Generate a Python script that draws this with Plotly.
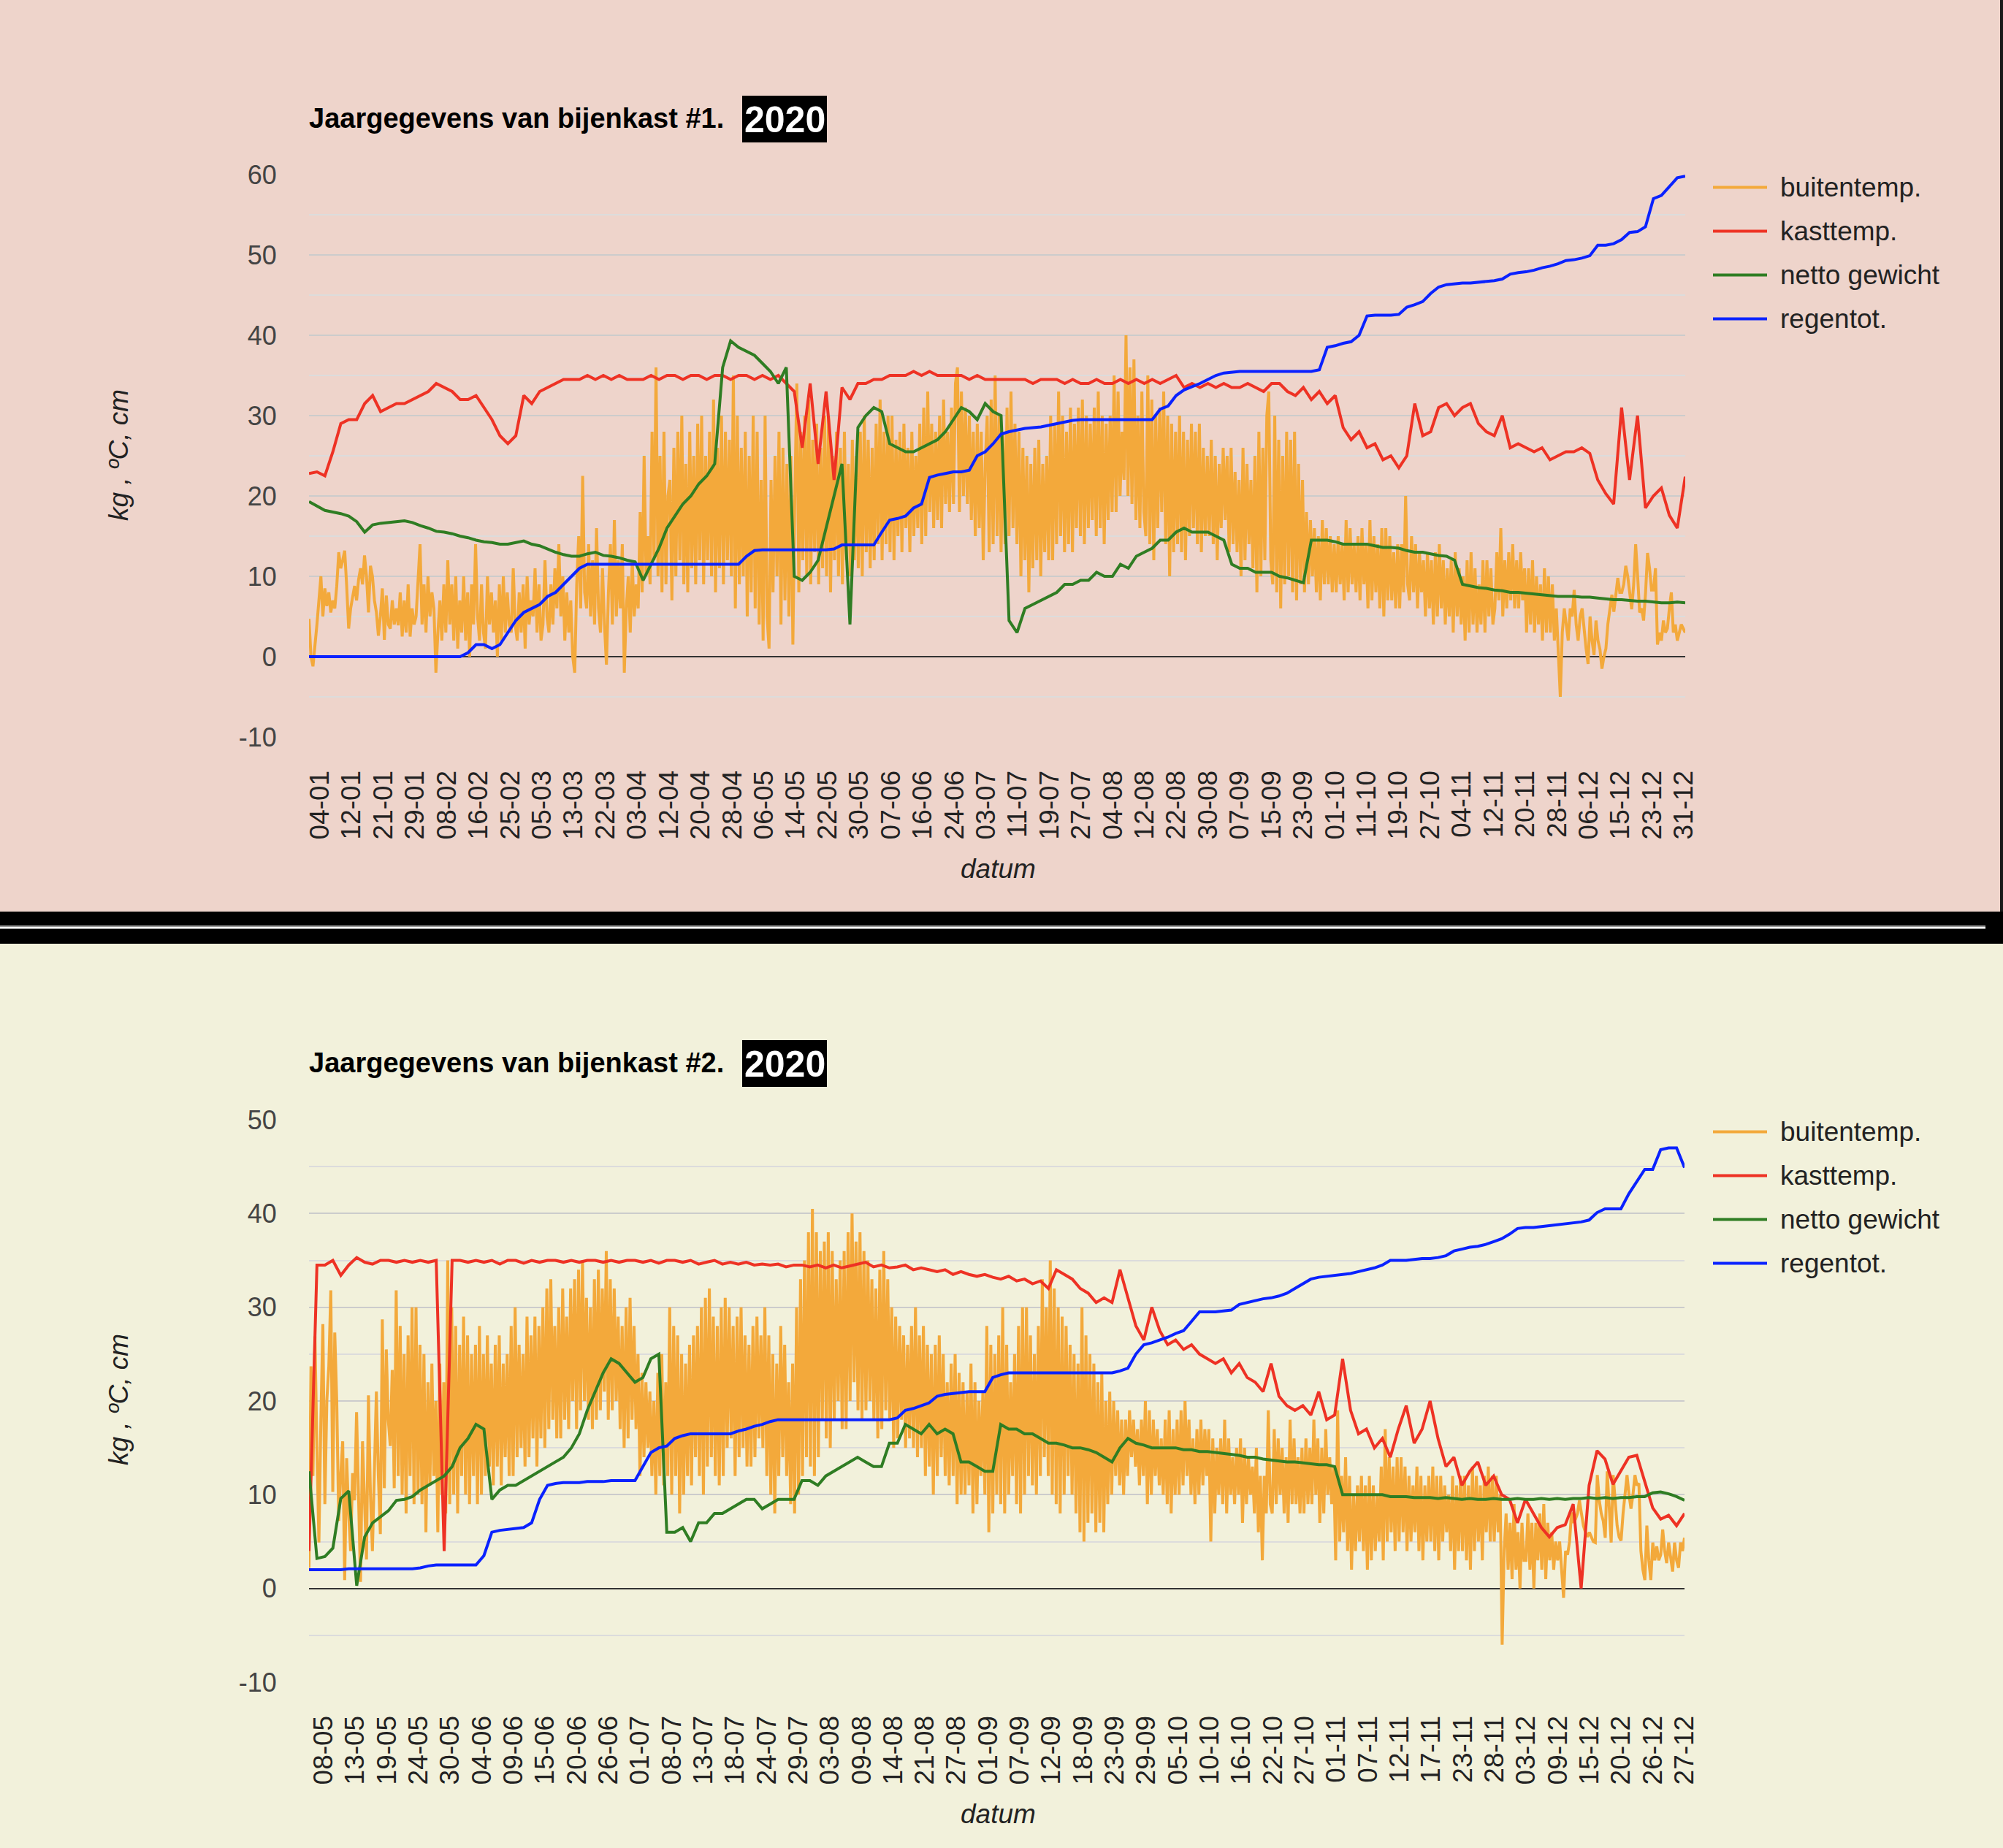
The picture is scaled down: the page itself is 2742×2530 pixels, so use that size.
import numpy as np
import plotly.graph_objects as go

W, H = 2742, 2530
def px(x): return x / W
def py(y): return 1 - y / H

# ---------------- data : chart 1 (bijenkast #1) ----------------
top_labels = ["04-01","12-01","21-01","29-01","08-02","16-02","25-02","05-03","13-03","22-03",
              "03-04","12-04","20-04","28-04","06-05","14-05","22-05","30-05","07-06","16-06",
              "24-06","03-07","11-07","19-07","27-07","04-08","12-08","22-08","30-08","07-09",
              "15-09","23-09","01-10","11-10","19-10","27-10","04-11","12-11","20-11","28-11",
              "06-12","15-12","23-12","31-12"]

top_buitentemp = [
4.7,0,-1.2,1,4,7,
10,5,8.5,6.3,8,5.5,7,6,8.8,13,11,12,13.2,8.8,3.5,6,
7.4,8.8,7,9.6,11,9,12.6,10,5.5,11.3,10,7,5.5,2.6,5,8.5,
2.1,7.6,4,3.5,7,4,6,3.9,8,2.5,7,3,9,2.5,6,4,
5,10,14,4,9,3,10,5,8,6,-2,3,7,2,9,3,
12,4,9,2,10,1,7,3,10,2,8,0,9,4,14,5,
2,9,3,1,10,4,8,3,7,0,9,2,10,3,8,4,
3,11,4,2,8,3,9,1,10,4,7,5,11,3,9,2,
4,12,5,3,9,4,11,6,14,5,10,2,8,3,7,0,
-2,9,15,6,22.5,8,6,14,5,12,4,16,6,3,11,4,
-1,8,14,4,17,5,12,6,14,-2,6,10,3,12,5,9,
6,18,8,25,10,15,9,28,12,36,10,25,8,28,9,20,
22,7,26,10,28,12,30,9,24,8,28,11,25,9,29,12,
30,9,25,12,28,10,32,8,26,11,30,9,28,12,27,10,
35,6,30,9,26,10,28,5,25,8,30,6,28,4,22,2,
30,5,1,22,8,25,10,28,4,26,7,24,5,25,1.5,20,
34,8,28,12,30,10,32,9,27,13,29,9,26,11,30,10,
30,8,25,12,28,10,26,9,28,12,24,10,27,12,25,11,
28,10,30,13,27,11,26,12,29,14,32,12,28,14,30,13,
30,12,27,15,28,13,29,16,26,13,28,15,25,16,29,14,
31,15,33,18,29,16,28,17,30,16,32,19,28,18,31,19,
34,36,18,33,20,31,19,30,17,28,15,29,16,28,12,24,
30,13,32,14,35,15,30,13,28,14,31,15,33,16,29,14,
28,10,26,12,25,8,24,11,26,12,27,10,24,13,25,12,
30,12,29,14,33,15,30,13,28,14,31,13,29,16,31,15,
32,14,30,16,29,17,31,15,33,16,30,14,29,17,30,18,
35,18,33,20,28,22,40,20,36,19,37,17,30,16,33,18,
15,35,14,32,12,30,16,31,18,33,14,30,10,29,13,28,
14,30,13,28,12,27,15,29,16,28,14,29,13,26,15,25,
15,27,14,25,12,24,16,26,17,25,13,26,14,23,13,22,
10,26,12,24,14,22,11,25,8,28,10,26,12,30,33,12,
9,30,8,27,6,25,9,28,10,27,8,28,7,24,9,22,
8,18,9,17,10,16,8,15,7,17,9,16,9,15,8,14,
8,15,9,14,7,17,8,16,9,14,8,15,7,16,9,14,
6,17,7,15,8,14,6,16,5,16,7,15,7,13,6,14,
6,14,8,20,9,7,15,8,14,6,13,8,12,5,13,6,
12,4,13,5,14,6,12,4,11,5,12,3,13,5,11,4,
10,2,12,3,13,4,11,3,9,4,12,3,12,5,11,4,
6,13,7,16,5,12,6,13,7,14,6,12,6,13,7,11,
3,11,4,12,3,10,4,9,2,11,3,10,3,9,2,6,
1,-5,3,6,4,2,6,5,8.3,4,2,5,6,3,1,-0.9,
5,2,0.2,4.5,2,0.9,-1.5,0,1,4.1,6,7.7,5.6,8,9.8,8,
8,9,11.3,10,8,5.9,9,14,10,5.5,6,4.5,8,12.9,11,8.3,
8.3,11,1.5,3,2,4.5,3,3.5,6,8,3,4,2,3,4,3.5,
3]

top_kasttemp = [
22.8,23,
22.5,25.5,29,29.5, 29.5,31.5,32.5,30.5, 31,31.5,31.5,32, 32.5,33,34,33.5,
33,32,32,32.5, 31,29.5,27.5,26.5, 27.5,32.5,31.5,33, 33.5,34,34.5,34.5,
34.5,35,34.5,35, 34.5,35,34.5,34.5, 34.5,35,34.5,35, 35,34.5,35,35,
34.5,35,35,34.5, 35,35,34.5,35, 34.5,35,34,33, 26,34,24,33,
22,33.5,32,34, 34,34.5,34.5,35, 35,35,35.5,35, 35.5,35,35,35,
35,34.5,35,34.5, 34.5,34.5,34.5,34.5, 34.5,34,34.5,34.5, 34.5,34,34.5,34,
34,34.5,34,34, 34.5,34,34.5,34, 34.5,34,34.5,35, 33.5,34,33.5,34,
33.5,34,33.5,33.5, 34,33.5,33,34, 34,33,32.5,33.5, 32,33,31.5,32.5,
28.5,27,28,26, 26.5,24.5,25,23.5, 25,31.5,27.5,28, 31,31.5,30,31,
31.5,29,28,27.5, 30,26,26.5,26, 25.5,26,24.5,25, 25.5,25.5,26,25.3,
22,20.3,19,31, 22,30,18.5,20, 21,17.6,16,22.4]

top_gewicht = [
19.3,18.8,
18.2,18,17.8,17.5, 16.8,15.5,16.4,16.6, 16.7,16.8,16.9,16.7, 16.3,16,15.6,15.5,
15.3,15,14.8,14.5, 14.3,14.2,14,14, 14.2,14.4,14,13.8, 13.4,13,12.7,12.5,
12.5,12.8,13,12.6, 12.5,12.3,12,11.8, 9.5,11.5,13.5,16, 17.5,19,20,21.5,
22.5,24,36,39.3, 38.5,38,37.5,36.5, 35.5,34,36,10, 9.5,10.5,12,16,
20,24,4,28.5, 30,31,30.5,26.5, 26,25.5,25.5,26, 26.5,27,28,29.5,
31,30.5,29.5,31.5, 30.5,30,4.5,3, 6,6.5,7,7.5, 8,9,9,9.5,
9.5,10.5,10,10, 11.5,11,12.5,13, 13.5,14.5,14.5,15.5, 16,15.5,15.5,15.5,
15,14.5,11.5,11, 11,10.5,10.5,10.5, 10,9.8,9.5,9.2, 14.5,14.5,14.5,14.3,
14,14,14,14, 13.8,13.6,13.6,13.5, 13.2,13,13,12.8, 12.6,12.5,12,9,
8.8,8.6,8.5,8.3, 8.2,8,8,7.9, 7.8,7.7,7.6,7.5, 7.5,7.5,7.4,7.4,
7.3,7.2,7.1,7.1, 7,6.9,6.9,6.8, 6.7,6.7,6.8,6.7]

top_regentot = [
0,0,
0,0,0,0, 0,0,0,0, 0,0,0,0, 0,0,0,0, 0,0,0.5,1.5, 1.5,1.0,1.5,3,
4.5,5.5,6,6.5, 7.5,8,9,10, 11,11.5,11.5,11.5, 11.5,11.5,11.5,11.5,
11.5,11.5,11.5,11.5, 11.5,11.5,11.5,11.5, 11.5,11.5,11.5,11.5, 11.5,12.5,13.2,13.3,
13.3,13.3,13.3,13.3, 13.3,13.3,13.3,13.3, 13.4,13.9,13.9,13.9, 13.9,13.9,15.5,17,
17.2,17.5,18.5,19, 22.3,22.6,22.8,23, 23,23.2,25,25.5, 26.5,27.7,28,28.2,
28.4,28.5,28.6,28.8, 29,29.2,29.4,29.5, 29.5,29.5,29.5,29.5, 29.5,29.5,29.5,29.5,
29.5,30.8,31.2,32.5, 33.2,33.6,34,34.5, 35,35.3,35.4,35.5, 35.5,35.5,35.5,35.5,
35.5,35.5,35.5,35.5, 35.5,35.7,38.5,38.7, 39,39.2,40,42.4, 42.5,42.5,42.5,42.6,
43.5,43.8,44.2,45.2, 46,46.3,46.4,46.5, 46.5,46.6,46.7,46.8, 47,47.6,47.8,47.9,
48.1,48.4,48.6,48.9, 49.3,49.4,49.6,49.9, 51.2,51.2,51.4,51.9, 52.8,52.9,53.5,57,
57.4,58.5,59.6,59.8]

# ---------------- data : chart 2 (bijenkast #2) ----------------
bot_labels = ["08-05","13-05","19-05","24-05","30-05","04-06","09-06","15-06","20-06","26-06",
              "01-07","08-07","13-07","18-07","24-07","29-07","03-08","09-08","14-08","21-08",
              "27-08","01-09","07-09","12-09","18-09","23-09","29-09","05-10","10-10","16-10",
              "22-10","27-10","01-11","07-11","12-11","17-11","23-11","28-11","03-12","09-12",
              "15-12","20-12","26-12","27-12"]

bot_buitentemp = [
2.2,23.7,12,26.9,15,4.9,
18,28.2,9,20,23.7,31.8,10.3,27.3,20,7.2,12,15.7,0.9,13.9,8,4,
12.3,9.4,18.8,8,0.7,15.7,8,3.1,20.6,10,4,14,21,12,5.8,28.7,
10.7,25.5,18,15.2,23.3,10.7,31.8,12,28,10,25,8,27,12,30,9,
30,10,26,9,25,6,22,11,24,12,20,6,24,10,22,8,
35,9,30,10,28,8,26,12,29,10,27,9,25,12,26,9,
28,10,25,12,27,13,24,11,26,13,27,11,24,14,25,12,
28,12,30,14,26,15,25,13,29,14,27,16,29,13,28,16,
30,15,32,17,33,18,28,16,30,16,32,18,29,17,32,20,
33,17,34,19,35,20,31,18,30,17,33,18,34,19,32,21,
36,18,33,19,32,20,29,17,28,15,30,16,31,18,28,17,
25,12,23,14,22,15,21,12,20,10,23,12,25,11,22,12,
30,10,28,12,27,8,25,10,24,12,26,11,27,14,28,12,
30,10,31,13,32,14,29,12,28,11,30,12,31,15,30,16,
28,12,29,14,30,15,27,13,26,13,28,14,29,16,27,15,
30,12,27,10,25,8,24,12,28,14,26,12,22,9,24,8,
30,10,33,12,35,14,38,13,40.5,12,38,14,36,18,37,16,
38,15,36,18,33,20,35,17,36,17,38,20,40,22,37,19,
38,18,36,19,35,20,33,18,32,16,34,17,36,19,33,18,
30,15,29,16,28,18,27,15,26,16,28,15,30,14,27,15,
28,12,26,13,25,10,26,12,27,14,25,12,22,11,24,12,
25,9,23,10,22,10,21,11,24,8,22,9,20,12,21,10,
28,6,26,8,25,10,27,9,30,8,26,10,22,12,25,9,
28,8,30,10,30,12,27,11,25,10,28,12,33,14,30,12,
35,10,32,9,30,8,29,10,28,12,26,10,25,8,24,6,
30,5,27,7,25,8,24,6,22,7,23,6,20,9,21,10,
20,12,19,11,18,10,18,12,19,14,18,13,17,11,18,12,
20,9,19,10,18,12,17,11,16,10,18,9,19,8,17,10,
18,10,19,11,20,12,18,10,16,9,17,10,18,11,17,12,
17,5,16,8,15,10,16,9,18,8,16,10,14,9,15,10,
16,7,15,9,14,10,13,8,15,6,12,3,12,8,19,9,
8,17,9,16,10,15,8,14,7,18,9,16,9,14,8,15,
8,16,9,15,9,18,10,16,7,15,8,17,10,14,9,13,
3,19,5,12,6,14,4,12,2,10,4,11,5,12,4,11,
2,12,3,11,4,10,5,13,3,17,5,14,6,13,4,14,
5,14,6,13,4,12,5,11,6,13,4,12,3,11,5,12,
5,13,4,12,3,12,5,11,6,10,4,12,2,11,4,12,
4,12,3,11,2,13,4,12,5,11,3,12,6,13,5,12,
5,12,6,10,-6,4,8,2,7,1,9,2,6,0,7,3,
3,8,2,7,0,7,3,8,2,9,1,7,3,6,2,5,
3,5,2,-1,4,3.6,5,8.1,7,7.4,8,9.4,8,6.7,6,5.5,
6,5.5,5,4.9,12.1,9.4,8,7.2,5.4,12.5,9,4.9,12.1,9,6.7,5.5,
5.1,8,10.3,12.1,10,8.5,10,12.1,11,11.2,4,2,0.9,6.7,3,0.9,
4.9,3,4.5,3,3.6,6.3,4,2.7,4.9,3,1.8,4.9,3,2.2,4.9,4,
5.4]

bot_kasttemp = [
4,34.5,
34.5,35,33.4,34.5, 35.3,34.8,34.6,35, 35,34.8,35,34.8, 35,34.8,35,4,
35,35,34.8,35, 34.8,35,34.6,35, 35,34.7,35,34.8, 35,35,34.8,35,
34.8,35,35,34.8, 35,34.8,35,35, 34.8,35,34.7,35, 35,34.8,35,34.6,
34.8,35,34.6,34.8, 34.6,34.8,34.5,34.6, 34.5,34.6,34.3,34.5, 34.5,34.3,34.5,34.2,
34.5,34.2,34.4,34.6, 34.8,34.3,34.5,34.2, 34.3,34.5,34,34.2, 34,33.8,34,33.5,
33.8,33.5,33.3,33.5, 33.2,33,33.3,32.8, 33,32.5,32.8,32, 34,33.5,33,32,
31.5,30.5,31,30.5, 34,31,28,26.5, 30,27.5,26,26.5, 25.5,26,25,24.5,
24,24.5,23,24, 22.5,22,21,24, 20.5,19.5,19,19.5, 18.5,21,18,18.5,
24.5,19,16.5,17, 15,16,14,17, 19.5,15.5,17,20, 16,13,14,11,
12.5,13.5,11,12, 10,9.5,7,9.5, 8,6.5,5.5,6.5, 6.8,9,0,11,
14.7,13.8,11.1,12.5, 14,14.2,11.5,8.6, 7.4,7.8,6.7,8]

bot_gewicht = [
12.5,3.2,
3.4,4.3,9.6,10.4, 0.3,5.5,7,7.7, 8.3,9.4,9.5,9.8, 10.5,11,11.5,12,
13,15,16,17.5, 17,9.5,10.5,11, 11,11.5,12,12.5, 13,13.5,14,15,
16.5,19,21,23, 24.5,24,23,22, 22.5,24.5,25,6, 6,6.5,5,7,
7,8,8,8.5, 9,9.5,9.5,8.5, 9,9.5,9.5,9.5, 11.5,11.5,11,12,
12.5,13,13.5,14, 13.5,13,13,15.5, 15.5,17.5,17,16.5, 17.5,16.5,17,16.5,
13.5,13.5,13,12.5, 12.5,17.5,17,17, 16.5,16.5,16,15.5, 15.5,15.3,15,15,
14.8,14.5,14,13.5, 15,16,15.5,15.3, 15,15,15,15, 14.8,14.8,14.6,14.6,
14.5,14.4,14.3,14.2, 14,14,13.8,13.7, 13.6,13.5,13.5,13.4, 13.3,13.2,13.2,13,
10,10,10,10, 10,10,9.8,9.8, 9.8,9.7,9.7,9.7, 9.6,9.7,9.6,9.5,
9.6,9.5,9.5,9.6, 9.5,9.5,9.6,9.5, 9.5,9.6,9.5,9.6, 9.5,9.6,9.6,9.7,
9.6,9.7,9.6,9.7, 9.7,9.8,9.8,10.2, 10.3,10.1,9.8,9.4]

bot_regentot = [
2,2,
2,2,2,2.1, 2.1,2.1,2.1,2.1, 2.1,2.1,2.1,2.1, 2.2,2.4,2.5,2.5, 2.5,2.5,2.5,2.5,
3.5,6,6.2,6.3, 6.4,6.5,7,9.5, 11,11.2,11.3,11.3, 11.3,11.4,11.4,11.4, 11.5,11.5,11.5,11.5,
13,14.5,15,15.2, 16,16.3,16.5,16.5, 16.5,16.5,16.5,16.5, 16.8,17,17.3,17.5, 17.8,18,18,18,
18,18,18,18, 18,18,18,18, 18,18,18,18, 18.2,19,19.2,19.5, 19.8,20.5,20.7,20.8,
20.9,21,21,21, 22.5,22.8,23,23, 23,23,23,23, 23,23,23,23, 23,23,23,23,
23.2,23.5,25,26, 26.2,26.5,26.8,27.2, 27.5,28.5,29.5,29.5, 29.5,29.6,29.7,30.3,
30.5,30.7,30.9,31, 31.2,31.5,32,32.5, 33,33.2,33.3,33.4, 33.5,33.6,33.8,34,
34.2,34.5,35,35, 35,35.1,35.2,35.2, 35.3,35.5,36,36.2, 36.4,36.5,36.7,37,
37.3,37.8,38.4,38.5, 38.5,38.6,38.7,38.8, 38.9,39,39.1,39.3, 40.1,40.5,40.5,40.5,
42.1,43.4,44.7,44.7, 46.8,47,47,44.9]

series_names = ["buitentemp.", "kasttemp.", "netto gewicht", "regentot."]
series_colors = ["#F3A93B", "#EE3224", "#2F7D23", "#0A22FF"]

# ---------------- styling constants ----------------
FONT = "Arial, Liberation Sans, sans-serif"
TOP_BG = "#EED4CB"
BOT_BG = "#F2F1DB"

fig = go.Figure()

def add_series(xref, yref, xr, data):
    for name, vals, col in zip(series_names, data, series_colors):
        xs = np.linspace(xr[0], xr[1], len(vals))
        fig.add_trace(go.Scatter(x=xs, y=vals, mode="lines", name=name,
                                 line=dict(color=col, width=4),
                                 xaxis=xref, yaxis=yref, showlegend=False,
                                 hoverinfo="skip"))

top_xr = [-0.345, 43.04]
bot_xr = [-0.46, 43.0]
add_series("x", "y", top_xr, [top_buitentemp, top_kasttemp, top_gewicht, top_regentot])
add_series("x2", "y2", bot_xr, [bot_buitentemp, bot_kasttemp, bot_gewicht, bot_regentot])

def xaxis_def(dom, rng, labels, anchor):
    return dict(domain=dom, range=rng, anchor=anchor, tickmode="array",
                tickvals=list(range(len(labels))), ticktext=labels, tickangle=-90,
                tickfont=dict(family=FONT, size=37, color="#222222"),
                ticks="outside", ticklen=30, tickcolor="rgba(0,0,0,0)",
                showgrid=False, zeroline=False, showline=False, fixedrange=True,
                automargin=False)

def yaxis_def(dom, lo, hi, anchor):
    vals = list(range(lo, hi + 1, 10))
    return dict(domain=dom, range=[lo, hi], anchor=anchor, tickmode="array",
                tickvals=vals, ticktext=[str(v) for v in vals],
                tickfont=dict(family=FONT, size=36, color="#444444"),
                ticks="outside", ticklen=36, tickcolor="rgba(0,0,0,0)",
                showgrid=True, gridcolor="#CCCCCC", gridwidth=2,
                zeroline=True, zerolinecolor="#333333", zerolinewidth=2,
                showline=False, fixedrange=True, automargin=False,
                minor=dict(tickmode="linear", tick0=0, dtick=5, showgrid=True,
                           gridcolor="#DCDCDC", gridwidth=2, ticks=""))

OFF = 1293
layout = dict(
    width=W, height=H, autosize=False,
    margin=dict(l=0, r=0, t=0, b=0, pad=0, autoexpand=False),
    paper_bgcolor=BOT_BG, plot_bgcolor="rgba(0,0,0,0)",
    showlegend=False,
    xaxis=xaxis_def([px(423), px(2307)], top_xr, top_labels, "y"),
    yaxis=yaxis_def([py(1009), py(239)], -10, 60, "x"),
    xaxis2=xaxis_def([px(423), px(2306)], bot_xr, bot_labels, "y2"),
    yaxis2=yaxis_def([py(2303), py(1533)], -10, 50, "x2"),
)
fig.update_layout(**layout)

shapes = [
    dict(type="rect", xref="paper", yref="paper", x0=0, x1=1, y0=py(1248), y1=1,
         fillcolor=TOP_BG, line=dict(width=0), layer="below"),
    dict(type="rect", xref="paper", yref="paper", x0=px(2738), x1=1, y0=py(1248), y1=1,
         fillcolor="#1a1a1a", line=dict(width=0), layer="below"),
    dict(type="rect", xref="paper", yref="paper", x0=0, x1=1, y0=py(1292), y1=py(1248),
         fillcolor="#000000", line=dict(width=0), layer="below"),
    dict(type="rect", xref="paper", yref="paper", x0=0, x1=px(2718), y0=py(1269), y1=py(1267),
         fillcolor="#999999", line=dict(width=0), layer="below"),
    dict(type="rect", xref="paper", yref="paper", x0=0, x1=px(2718), y0=py(1271.5), y1=py(1269),
         fillcolor="#FFFFFF", line=dict(width=0), layer="below"),
]
annotations = []

for i, (num, dy) in enumerate([("1", 0), ("2", OFF)]):
    annotations.append(dict(xref="paper", yref="paper", x=px(421), y=py(162 + dy),
                            xanchor="left", yanchor="middle", showarrow=False,
                            text="<b>Jaargegevens van bijenkast #%s.</b>" % num,
                            font=dict(family=FONT, size=38, color="#000000")))
    shapes.append(dict(type="rect", xref="paper", yref="paper", x0=px(1016), x1=px(1132),
                       y0=py(195 + dy), y1=py(131 + dy), fillcolor="#000000",
                       line=dict(width=0)))
    annotations.append(dict(xref="paper", yref="paper", x=px(1074), y=py(164 + dy),
                            xanchor="center", yanchor="middle", showarrow=False,
                            text="<b>2020</b>",
                            font=dict(family=FONT, size=50, color="#FFFFFF")))
    annotations.append(dict(xref="paper", yref="paper", x=px(162), y=py(623 + dy),
                            xanchor="center", yanchor="middle", showarrow=False,
                            textangle=-90, text="<i>kg , ºC, cm</i>",
                            font=dict(family=FONT, size=37, color="#222222")))
    annotations.append(dict(xref="paper", yref="paper", x=px(1366), y=py(1190 + dy),
                            xanchor="center", yanchor="middle", showarrow=False,
                            text="<i>datum</i>",
                            font=dict(family=FONT, size=37, color="#222222")))
    for j, (nm, col) in enumerate(zip(series_names, series_colors)):
        yy = 256.5 + 60 * j + dy
        shapes.append(dict(type="line", xref="paper", yref="paper", x0=px(2345), x1=px(2419),
                           y0=py(yy), y1=py(yy), line=dict(color=col, width=4)))
        annotations.append(dict(xref="paper", yref="paper", x=px(2435), y=py(yy),
                                xanchor="left", yanchor="middle", showarrow=False,
                                text=nm, font=dict(family=FONT, size=37, color="#222222")))

fig.update_layout(shapes=shapes, annotations=annotations)
fig.write_html("out.html", config={"responsive": False, "displayModeBar": False},
               post_script="document.body.style.margin='0';document.body.style.padding='0';"
                           "document.body.style.overflow='hidden';"
                           "document.documentElement.style.overflow='hidden';")
